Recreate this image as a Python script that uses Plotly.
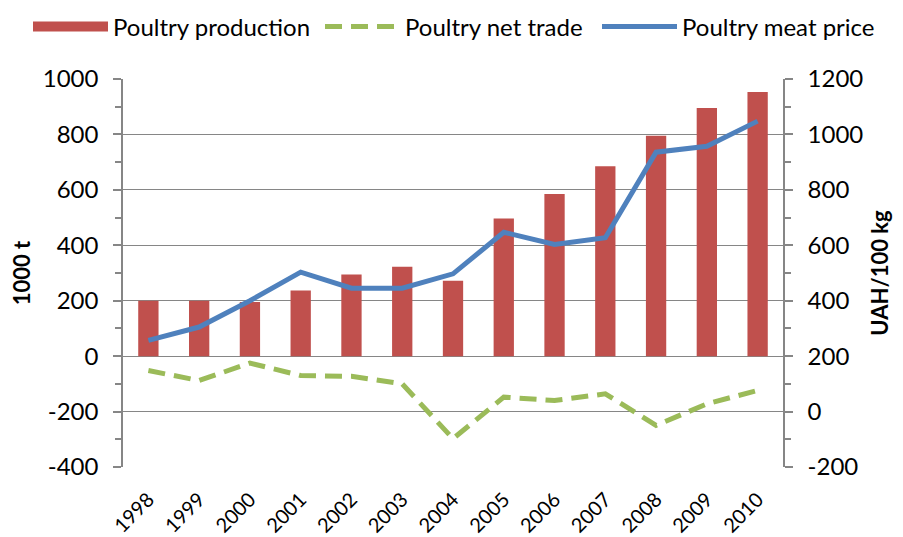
import plotly.graph_objects as go

years = ["1998", "1999", "2000", "2001", "2002", "2003", "2004",
         "2005", "2006", "2007", "2008", "2009", "2010"]
production = [200, 200, 195, 237, 295, 323, 272, 497, 585, 685, 795, 895, 953]
net_trade = [-52, -88, -25, -70, -73, -100, -298, -148, -160, -136, -250, -172, -124]
meat_price = [257, 305, 400, 503, 445, 445, 497, 647, 603, 627, 936, 957, 1048]

left_ticks = [-400, -200, 0, 200, 400, 600, 800, 1000]
left_labels = ["-400", "-200", "0", "200", "400", "600", "800", "1000"]
right_ticks = [-200, 0, 200, 400, 600, 800, 1000, 1200]
right_labels = ["-200", "0", "200", "400", "600", "800", "1000", "1200"]

FONT = "Lato, Open Sans, sans-serif"
GRID = "#868686"
RED = "#C0504D"
GREEN = "#9BBB59"
BLUE = "#4F81BD"

fig = go.Figure()
fig.add_trace(go.Bar(x=years, y=production, name="Poultry production",
                     marker=dict(color=RED, line=dict(width=0)),
                     showlegend=False, xaxis="x", yaxis="y"))
# legend entry for the bars drawn as a wide block, like the original
fig.add_trace(go.Scatter(x=[None], y=[None], name="Poultry production", mode="lines",
                         line=dict(color=RED, width=18), legend="legend",
                         xaxis="x", yaxis="y", hoverinfo="skip"))
fig.add_trace(go.Scatter(x=years, y=net_trade, name="Poultry net trade", mode="lines",
                         line=dict(color=GREEN, width=5, dash="17px,9px"),
                         legend="legend2", xaxis="x", yaxis="y"))
fig.add_trace(go.Scatter(x=years, y=meat_price, name="Poultry meat price", mode="lines",
                         line=dict(color=BLUE, width=5),
                         legend="legend3", xaxis="x", yaxis="y2"))

leg_common = dict(orientation="h", xref="container", yref="container",
                  yanchor="middle", xanchor="left", y=1 - 19 / 537,
                  font=dict(size=24), itemwidth=75, bgcolor="rgba(0,0,0,0)")

fig.update_layout(
    width=903, height=537,
    margin=dict(l=115, r=128, t=71, b=78, autoexpand=False),
    plot_bgcolor="white", paper_bgcolor="white",
    font=dict(family=FONT, size=20, color="black"),
    bargap=0.6,
    showlegend=True,
    legend=dict(leg_common, x=20 / 903),
    legend2=dict(leg_common, x=312 / 903),
    legend3=dict(leg_common, x=589 / 903),
    xaxis=dict(type="category", categoryorder="array", categoryarray=years,
               range=[-0.5, 12.5], showline=False, ticks="", showgrid=False,
               tickangle=-45, tickfont=dict(size=20), zeroline=False,
               ticklabelstandoff=16),
    xaxis2=dict(type="category", matches="x", overlaying="x", anchor="free",
                position=400 / 1400, showline=True, linecolor=GRID, linewidth=1.5,
                ticks="outside", tickson="boundaries", ticklen=7, tickcolor=GRID,
                tickwidth=1.5, showticklabels=False, showgrid=False, zeroline=False),
    yaxis=dict(range=[-400, 1000], tickvals=left_ticks, ticktext=left_labels,
               showgrid=True, gridcolor=GRID, gridwidth=1,
               showline=True, linecolor=GRID, linewidth=1.5, ticks="outside",
               ticklen=8, tickcolor=GRID, tickwidth=1.5, zeroline=False,
               minor=dict(dtick=100, ticks="outside", ticklen=6, tickcolor=GRID, showgrid=False),
               tickfont=dict(size=24), ticklabelstandoff=10,
               title=dict(text="<b>1000 t</b>", font=dict(size=22), standoff=12)),
    yaxis2=dict(range=[-200, 1200], tickvals=right_ticks, ticktext=right_labels,
                overlaying="y", side="right",
                showgrid=False, showline=True, linecolor=GRID, linewidth=1.5,
                ticks="outside", ticklen=8, tickcolor=GRID, tickwidth=1.5, zeroline=False,
                minor=dict(dtick=100, ticks="outside", ticklen=6, tickcolor=GRID),
                tickfont=dict(size=24), ticklabelstandoff=10,
                title=dict(text="<b>UAH/100 kg</b>", font=dict(size=22), standoff=10)),
)

fig.write_html("out.html")
